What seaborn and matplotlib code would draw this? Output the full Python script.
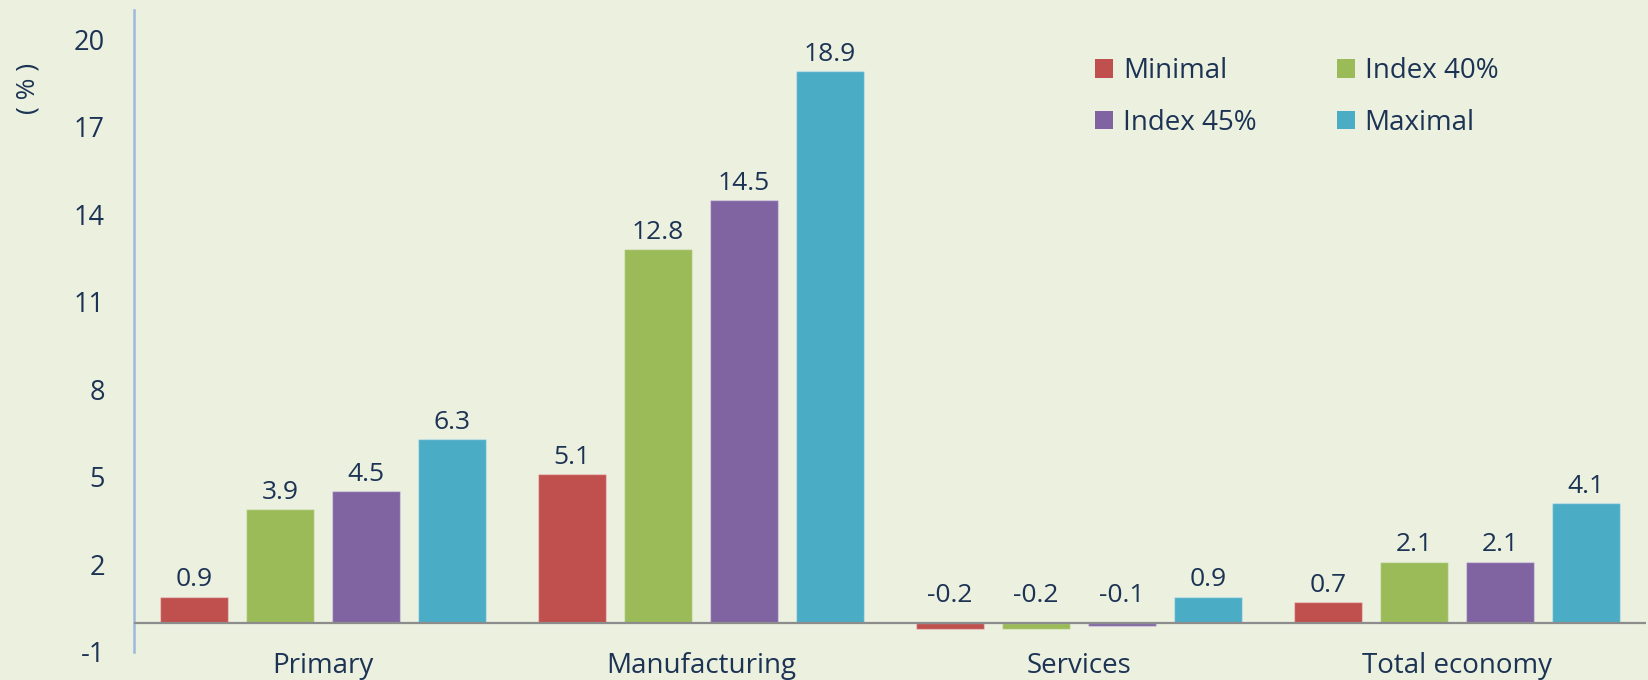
import matplotlib
matplotlib.use("Agg")
import matplotlib.pyplot as plt
import seaborn as sns
import pandas as pd
from matplotlib.patches import Patch

# Sector results by scenario (%)
categories = ["Primary", "Manufacturing", "Services", "Total economy"]
scenarios = ["Minimal", "Index 40%", "Index 45%", "Maximal"]
minimal = [0.9, 5.1, -0.2, 0.7]
index_40 = [3.9, 12.8, -0.2, 2.1]
index_45 = [4.5, 14.5, -0.1, 2.1]
maximal = [6.3, 18.9, 0.9, 4.1]
y_ticks = [-1, 2, 5, 8, 11, 14, 17, 20]

colors = ["#C0504D", "#9BBB59", "#8064A2", "#4BACC6"]
bg = "#EBF0DF"
text_color = "#1C3354"

rows = []
for name, vals in zip(scenarios, [minimal, index_40, index_45, maximal]):
    for cat, v in zip(categories, vals):
        rows.append({"category": cat, "scenario": name, "value": v})
df = pd.DataFrame(rows)

sns.set_style("white")
plt.rcParams["font.family"] = ["Open Sans", "DejaVu Sans"]

fig = plt.figure(figsize=(16.48, 6.8), dpi=100, facecolor=bg)
ax = fig.add_axes([134 / 1648, 28 / 680, 1512 / 1648, 642 / 680])
ax.set_facecolor(bg)

sns.barplot(data=df, x="category", y="value", hue="scenario",
            order=categories, hue_order=scenarios, palette=colors,
            width=0.91, gap=0.21, saturation=1, errorbar=None,
            edgecolor=(1, 1, 1, 0.35), linewidth=1, legend=False, ax=ax)

ax.set_ylim(-1, 21)
ax.set_xlim(-0.5, 3.5)
ax.set_yticks(y_ticks)
ax.set_yticklabels([str(t) for t in y_ticks])
ax.tick_params(axis="y", length=0, pad=21, labelsize=19.5, labelcolor=text_color)
ax.tick_params(axis="x", length=0, pad=0, labelsize=20, labelcolor=text_color)
ax.set_xlabel("")
ax.set_ylabel("")

for side in ["top", "right", "bottom"]:
    ax.spines[side].set_visible(False)
ax.spines["left"].set_color("#9DB9DC")
ax.spines["left"].set_linewidth(1.8)
ax.axhline(0, color="#8C8C8C", linewidth=1.6, zorder=3)

# Value labels above each bar
for container in ax.containers:
    for bar in container:
        v = bar.get_height()
        x = bar.get_x() + bar.get_width() / 2
        if v >= 0:
            y, off = v, 3
        else:
            y, off = 0, 11
        ax.annotate(f"{v:.1f}", (x, y), xytext=(0, off), textcoords="offset points",
                    ha="center", va="bottom", fontsize=19, color=text_color)

# Legend laid out row by row
handles = [Patch(facecolor=c, edgecolor="none") for c in colors]
order = [0, 2, 1, 3]
ax.legend([handles[i] for i in order], [scenarios[i] for i in order],
          ncol=2, frameon=False, fontsize=20, labelcolor=text_color,
          handlelength=0.65, handleheight=0.65, handletextpad=0.35,
          columnspacing=2.9, labelspacing=0.85, borderpad=0, borderaxespad=0,
          loc="center left", bbox_to_anchor=(1095 / 1648, 1 - 97 / 680),
          bbox_transform=fig.transFigure)

fig.text(28 / 1648, 1 - 88 / 680, "( % )", rotation=90, ha="center", va="center",
         fontsize=19, color=text_color)

fig.savefig("out.png", dpi=100, facecolor=bg)
